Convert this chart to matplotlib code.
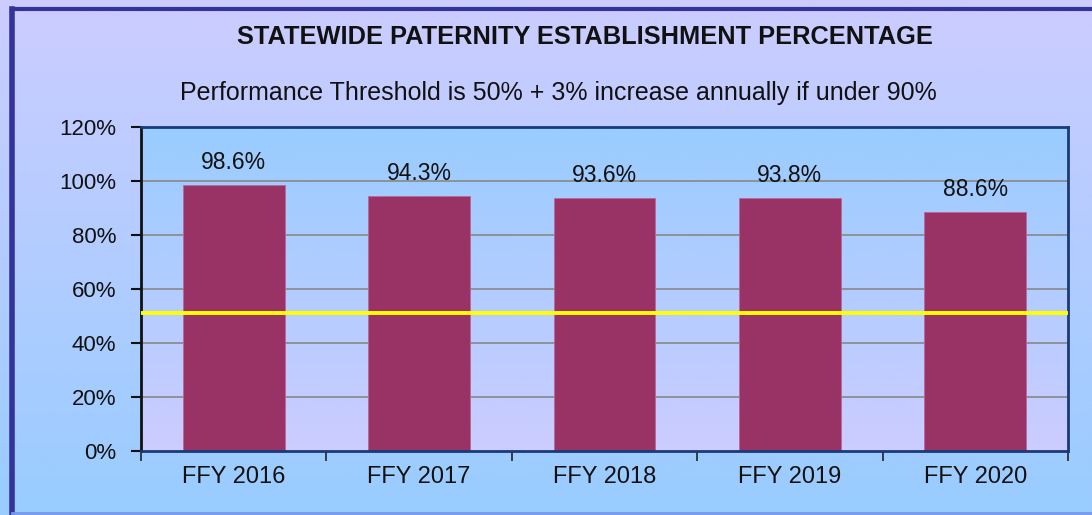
import numpy as np
import matplotlib
matplotlib.use("Agg")
import matplotlib.pyplot as plt
from matplotlib.colors import LinearSegmentedColormap
from matplotlib.lines import Line2D

categories = ["FFY 2016", "FFY 2017", "FFY 2018", "FFY 2019", "FFY 2020"]
values = [98.6, 94.3, 93.6, 93.8, 88.6]
value_labels = ["98.6%", "94.3%", "93.6%", "93.8%", "88.6%"]
threshold = 51
yticks = [0, 20, 40, 60, 80, 100, 120]
ytick_labels = ["0%", "20%", "40%", "60%", "80%", "100%", "120%"]
title = "STATEWIDE PATERNITY ESTABLISHMENT PERCENTAGE"
subtitle = "Performance Threshold is 50% + 3% increase annually if under 90%"

plt.rcParams['font.family'] = ['Liberation Sans', 'DejaVu Sans']

W, H = 1092, 515
fig = plt.figure(figsize=(W/100, H/100), dpi=100)

lav = np.array([204, 204, 255]) / 255
blue = np.array([153, 204, 255]) / 255

# figure background gradient (lavender top -> blue bottom)
bg = fig.add_axes([0, 0, 1, 1], zorder=-10)
grad = np.linspace(0, 1, 256)[:, None]
cm_fig = LinearSegmentedColormap.from_list("f", [lav, blue])
bg.imshow(grad, aspect='auto', cmap=cm_fig, extent=[0, 1, 0, 1], origin='upper')
bg.set_xlim(0, 1); bg.set_ylim(0, 1)
bg.axis('off')
# frame
bg.add_line(Line2D([12/W, 12/W], [0, 1 - 9/H], color='#333399', lw=4))
bg.add_line(Line2D([12/W, 1], [1 - 9/H, 1 - 9/H], color='#333399', lw=3))
bg.add_line(Line2D([12/W, 1], [2/H, 2/H], color='#7799ee', lw=2))

# plot axes
x0, x1 = 141, 1068
y_top, y_bot = 127, 451
ax = fig.add_axes([x0/W, 1 - y_bot/H, (x1 - x0)/W, (y_bot - y_top)/H])
ax.set_facecolor('none')
cm_ax = LinearSegmentedColormap.from_list("a", [blue, lav])
ax.imshow(grad, aspect='auto', cmap=cm_ax, extent=[-0.5, 4.5, 0, 120],
          origin='upper', zorder=0)

x = np.arange(len(categories))
ax.set_xlim(-0.5, 4.5)
ax.set_ylim(0, 120)
ax.set_yticks(yticks)
ax.set_yticklabels(ytick_labels, fontsize=16, color='#111111')
for yv in yticks[1:-1]:
    ax.axhline(yv, color='#888888', lw=1.2, zorder=1)

ax.bar(x, values, width=0.55, color='#993366', edgecolor='#bb6699', lw=0.6, zorder=2)
ax.axhline(threshold, color='#ffff00', lw=2.8, zorder=3)

for xi, v, lab in zip(x, values, value_labels):
    ax.annotate(lab, (xi, v), xytext=(0, 8), textcoords='offset points',
                ha='center', va='bottom', fontsize=16.5, color='#111111')

ax.set_xticks(x)
ax.set_xticklabels(categories, fontsize=17, color='#111111')
ax.set_xticks(np.arange(-0.5, 5, 1), minor=True)
ax.tick_params(axis='x', which='major', length=0, pad=11)
ax.tick_params(axis='x', which='minor', length=7, width=1.2, direction='out', color='#222222')
ax.tick_params(axis='y', length=7, width=1.5, direction='out', color='#111111', pad=11)

ax.spines['left'].set_color('#111111')
ax.spines['left'].set_linewidth(2)
for s in ['top', 'right', 'bottom']:
    ax.spines[s].set_color('#1a3a7a')
    ax.spines[s].set_linewidth(2)

fig.text(585/W, 1 - 37/H, title, ha='center', va='center', fontsize=18.3, fontweight='bold', color='#111111')
fig.text(558/W, 1 - 93/H, subtitle, ha='center', va='center', fontsize=18, color='#111111')

fig.savefig('out.png', dpi=100)
